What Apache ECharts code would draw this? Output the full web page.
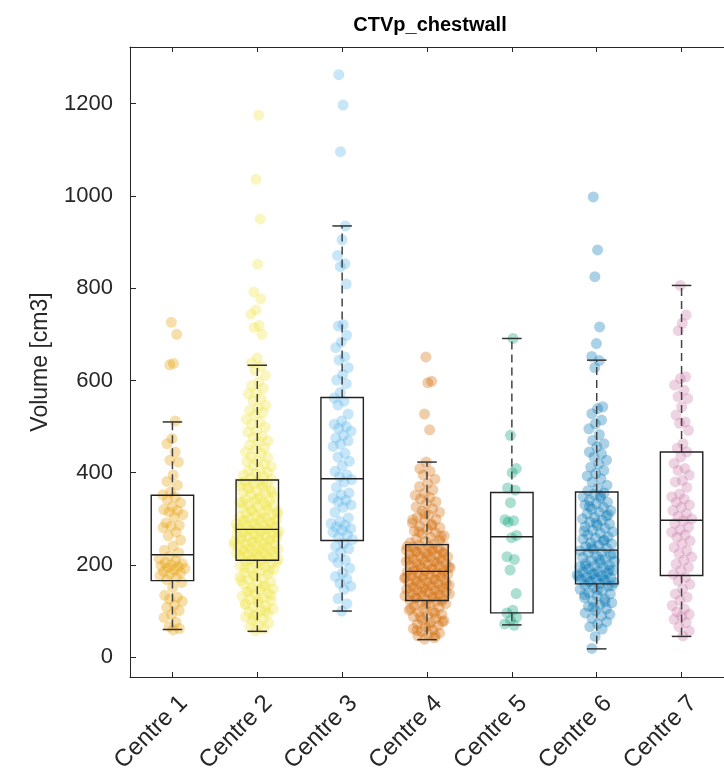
<!DOCTYPE html>
<html><head><meta charset="utf-8">
<script src="https://cdn.jsdelivr.net/npm/echarts@6/dist/echarts.min.js"></script>
<style>html,body{margin:0;padding:0;background:#fff;}#chart{width:724px;height:778px;}</style>
</head><body><div id="chart"></div>
<script>
const titleText = 'CTVp_chestwall';
const yAxisName = 'Volume [cm3]';
const categories = ['Centre 1','Centre 2','Centre 3','Centre 4','Centre 5','Centre 6','Centre 7'];
const yTicks = [0, 200, 400, 600, 800, 1000, 1200];

const centre1 = [726, 700, 637, 634, 512, 474, 463, 445, 427, 423, 395, 381, 373, 358, 352, 347, 341, 335, 326, 320, 318, 315, 309, 304, 291, 286, 284, 281, 271, 263, 254, 241, 232, 226, 219, 213, 209, 205, 203, 200, 198, 196, 194, 192, 189, 186, 183, 180, 177, 173, 168, 162, 151, 134, 130, 126, 121, 113, 108, 101, 93, 86, 76, 66, 62, 59];
const centre2 = [1175, 1036, 950, 852, 792, 777, 753, 744, 719, 715, 700, 649,
 638, 631, 622, 611, 597, 589, 583, 574, 571, 561, 556, 546, 541, 535, 531, 524, 516, 511, 504, 499, 491, 488, 479, 476, 469, 467, 460, 454, 451, 445, 442, 435, 433, 426, 424, 419, 415, 413, 407, 404, 401, 397, 395, 391, 388, 386,
 383, 381, 377, 376, 372, 369, 365, 363, 361, 356, 354, 352, 348, 347, 343, 340, 339, 336, 333, 331, 327, 326, 323, 320, 319, 316, 313, 312, 309, 307, 305, 302, 301, 298, 296, 295, 292, 290, 289, 286, 285, 283, 280, 279, 277, 276, 273, 272, 270, 268, 266, 265, 262, 261, 259, 257, 255, 254, 251, 250, 248, 246, 245, 242, 241, 239, 237, 235, 233, 232, 230, 228, 226, 225, 223, 221, 219, 218, 215, 214, 212, 210,
 208, 204, 202, 198, 196, 192, 190, 186, 183, 180, 178, 174, 171, 168, 164, 161, 158, 155, 151, 148, 146, 142, 139, 136, 132, 129, 126, 122, 119, 116, 112, 108, 105, 102, 98, 95, 91, 87, 83, 79, 74, 70, 66, 61, 57,
 379, 374, 368, 358, 344, 335, 329, 318, 311, 303, 297, 291, 287, 281, 278, 274, 269, 263, 258, 253, 249, 244, 238, 234, 229, 224, 220, 216, 211, 206, 200, 194, 188, 176, 166, 153, 144, 134, 124, 114, 100, 89];
const centre3 = [1263, 1197, 1096, 935, 905, 871, 853, 847, 809, 721, 718, 698, 683, 671, 651, 644, 628, 613, 601, 593, 574, 562, 555, 547, 527, 512, 505, 500, 496, 490, 481, 475, 469, 462, 457, 442, 434, 425, 415, 403, 395, 391, 385, 380, 368, 356, 352, 345, 340, 337, 330, 325, 314, 302, 294, 290, 286, 282, 279, 275, 271, 265, 260, 255, 247, 240, 235, 228, 217, 210, 205, 193, 182, 175, 170, 160, 154, 147, 127, 116, 100];
const centre4 = [651, 598, 595, 527, 493,
 423, 409, 403, 395, 386, 377, 370, 363, 355, 351, 346, 343, 337, 333, 326, 322, 317, 314, 308, 304, 299, 296, 291, 288, 284, 281, 277, 274, 270, 267, 263, 260, 256, 253, 251, 248, 246,
 243, 241, 239, 238, 235, 234, 232, 230, 228, 227, 225, 223, 222, 219, 218, 216, 213, 212, 210, 208, 207, 204, 203, 201, 199, 198, 195, 194, 192, 190, 188, 187, 185, 183, 181, 180, 178, 176, 175, 172, 171, 169, 167, 166, 163, 162, 160, 158, 156, 155, 152, 151, 149, 147, 145, 144, 141, 140, 138, 136, 134, 133, 130, 129, 127, 125, 124,
 121, 119, 116, 113, 111, 108, 104, 102, 99, 97, 93, 90, 88, 84, 81, 79, 75, 72, 69, 66, 62, 59, 56, 52, 49, 46, 42, 39,
 240, 236, 229, 224, 217, 211, 206, 200, 196, 191, 186, 182, 177, 173, 168, 164, 159, 154, 150, 146, 142, 137, 132, 128, 122, 114, 106, 95, 86, 77, 68, 58, 47, 311, 298, 286, 272, 262];
const centre5 = [691, 481, 409, 400, 367, 362, 335, 298, 296, 293, 264, 259, 218, 212, 189, 138, 102, 96, 87, 80, 72, 69];
const centre6 = [998, 883, 825, 716, 680, 652,
 643, 628, 543, 539, 528, 514, 506, 495, 483, 470, 463, 456, 445, 441, 434, 427, 419, 412, 405, 398, 393, 387, 380, 373, 366, 361,
 356, 353, 348, 345, 340, 336, 333, 330, 325, 321, 318, 315, 311, 306, 303, 300, 297, 293, 289, 286, 283, 280, 275, 272, 269, 265, 261, 258, 256, 252, 248, 246, 243, 240, 236, 234, 231, 228, 226, 222, 219, 216, 213, 210, 208, 205, 203, 200, 198, 196, 193, 191, 188, 186, 184, 182, 180, 178, 176, 174, 172, 170, 168, 166, 164, 162, 160,
 157, 154, 151, 147, 144, 140, 137, 133, 129, 126, 122, 118, 113, 110, 105, 101, 96, 90, 84, 77, 72, 66, 61, 45, 19,
 350, 327, 309, 291, 273, 254, 238, 224, 211, 197, 189, 181, 175, 169, 163, 155, 146, 135, 120, 108, 93];
const centre7 = [806, 742, 724, 708, 608, 604, 590, 579, 565, 561, 543, 525, 510, 507, 492, 463, 453, 445, 434, 420, 409, 405, 395, 383, 380, 368, 354, 348, 343, 336, 330, 325, 318, 311, 305, 300, 296, 290, 282, 276, 271, 265, 260, 252, 246, 238, 231, 224, 217, 210, 202, 195, 188, 180, 173, 166, 158, 148, 137, 130, 123, 112, 104, 98, 93, 88, 82, 75, 66, 57, 46];

const whiskerLow  = [60, 56, 100, 38, 70, 18, 45];
const q1          = [166, 210, 253, 123, 96, 159, 177];
const median      = [222, 277, 387, 186, 261, 232, 297];
const q3          = [351, 384, 563, 244, 357, 358, 445];
const whiskerHigh = [510, 633, 935, 423, 691, 644, 806];

const colors = ['#E69F00', '#F0E442', '#56B4E9', '#D06800', '#009E73', '#0072B2', '#CC79A7'];
const centres = [centre1, centre2, centre3, centre4, centre5, centre6, centre7];

const AX = '#262626';
const FONT = 'Liberation Sans, Arial, sans-serif';

// deterministic, density-scaled horizontal spread (layout only, like a swarm chart)
function unit(j) { const f = (j * 0.6180339887 + 0.37) % 1; return f * 2 - 1; }
function localDensity(vals) {
  const h = 25;
  return vals.map(v => vals.reduce((s, w) => s + Math.exp(-0.5 * ((v - w) / h) * ((v - w) / h)), 0));
}
const densities = centres.map(localDensity);
const dMax = Math.max.apply(null, densities.map(d => Math.max.apply(null, d)));

const scatterSeries = centres.map((vals, ci) => ({
  type: 'scatter',
  xAxisIndex: 2, yAxisIndex: 0,
  symbolSize: 11,
  itemStyle: { color: colors[ci], opacity: 0.33, borderWidth: 0 },
  data: vals.map((v, j) => [ci + 1 + unit(j + ci * 7) * 0.28 * Math.sqrt(densities[ci][j] / dMax), v]),
  z: 2, silent: true
}));

const boxData = categories.map((c, i) => [i, whiskerLow[i], q1[i], median[i], q3[i], whiskerHigh[i]]);

const boxSeries = {
  type: 'custom',
  xAxisIndex: 0, yAxisIndex: 0,
  z: 5,
  encode: { x: 0, y: [1, 2, 3, 4, 5] },
  data: boxData,
  renderItem: function (params, api) {
    const i = api.value(0);
    const cx = api.coord([i, api.value(3)])[0];
    const bw = api.size([1, 0])[0] * 0.5;
    const cw = bw * 0.46;
    const yLo = api.coord([i, api.value(1)])[1];
    const yQ1 = api.coord([i, api.value(2)])[1];
    const yMd = api.coord([i, api.value(3)])[1];
    const yQ3 = api.coord([i, api.value(4)])[1];
    const yHi = api.coord([i, api.value(5)])[1];
    const solid = { stroke: '#222', lineWidth: 1.4, fill: null };
    const dash = { stroke: '#444', lineWidth: 1.5, lineDash: [8, 5] };
    return {
      type: 'group',
      children: [
        { type: 'line', shape: { x1: cx, y1: yQ3, x2: cx, y2: yHi }, style: dash },
        { type: 'line', shape: { x1: cx, y1: yQ1, x2: cx, y2: yLo }, style: dash },
        { type: 'line', shape: { x1: cx - cw / 2, y1: yHi, x2: cx + cw / 2, y2: yHi }, style: { stroke: '#333', lineWidth: 1.5 } },
        { type: 'line', shape: { x1: cx - cw / 2, y1: yLo, x2: cx + cw / 2, y2: yLo }, style: { stroke: '#333', lineWidth: 1.5 } },
        { type: 'rect', shape: { x: cx - bw / 2, y: yQ3, width: bw, height: yQ1 - yQ3 }, style: solid },
        { type: 'line', shape: { x1: cx - bw / 2, y1: yMd, x2: cx + bw / 2, y2: yMd }, style: { stroke: '#222', lineWidth: 1.4 } }
      ]
    };
  }
};

const chart = echarts.init(document.getElementById('chart'), null, { renderer: 'canvas' });
chart.setOption({
  backgroundColor: '#fff',
  animation: false,
  graphic: [{
    type: 'text', x: 430, y: 15,
    style: { text: titleText, font: 'bold 20px ' + FONT, fill: '#000', textAlign: 'center', textVerticalAlign: 'top' }
  }],
  grid: { left: 130, top: 47, right: -7, bottom: 101, containLabel: false },
  xAxis: [
    {
      type: 'category', data: categories, position: 'bottom', boundaryGap: true,
      axisLine: { show: true, onZero: false, lineStyle: { color: AX, width: 1 } },
      axisTick: { show: true, inside: true, alignWithLabel: true, length: 5, lineStyle: { color: AX } },
      axisLabel: { rotate: 45, margin: 34, padding: [0, -16, 0, 0], fontSize: 24, fontFamily: FONT, color: AX, interval: 0 },
      splitLine: { show: false }
    },
    {
      type: 'category', data: categories, position: 'top', boundaryGap: true,
      axisLine: { show: true, onZero: false, lineStyle: { color: AX, width: 1 } },
      axisTick: { show: true, inside: true, alignWithLabel: true, length: 5, lineStyle: { color: AX } },
      axisLabel: { show: false }, splitLine: { show: false }
    },
    { type: 'value', min: 0.5, max: 7.5, show: false }
  ],
  yAxis: [{
    type: 'value', min: -43, max: 1323,
    name: yAxisName, nameLocation: 'middle', nameGap: 78, nameRotate: 90,
    nameTextStyle: { fontSize: 23, fontFamily: FONT, color: AX },
    axisLine: { show: true, onZero: false, lineStyle: { color: AX, width: 1 } },
    axisTick: { show: true, inside: true, length: 6, customValues: yTicks, lineStyle: { color: AX } },
    axisLabel: { customValues: yTicks, formatter: v => String(v), fontSize: 22, fontFamily: FONT, color: AX, margin: 17 },
    splitLine: { show: false }
  }],
  series: scatterSeries.concat([boxSeries])
});
</script></body></html>
